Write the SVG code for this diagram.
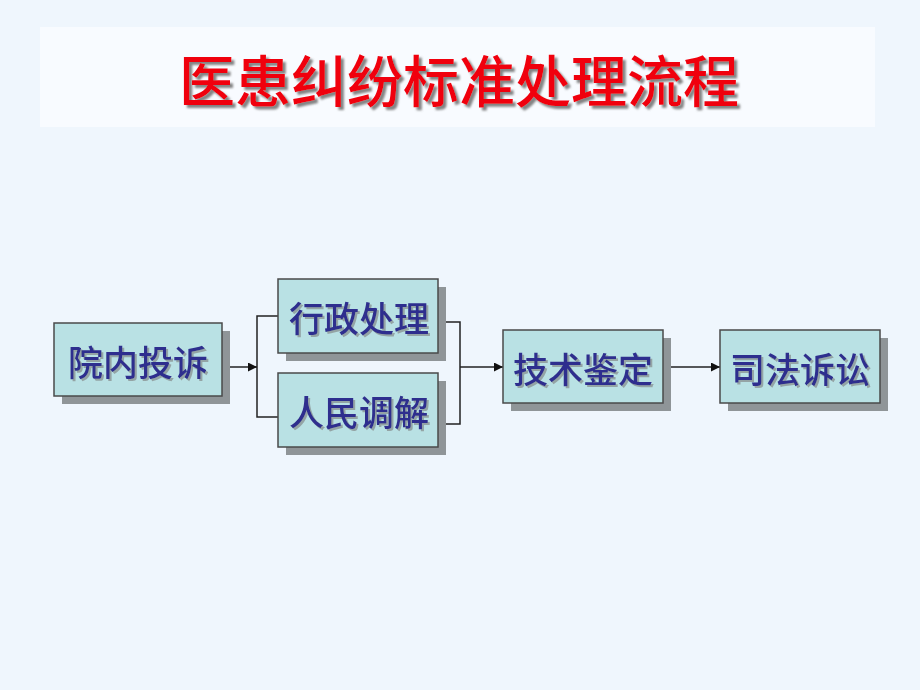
<svg xmlns="http://www.w3.org/2000/svg" width="920" height="690" viewBox="0 0 920 690">
<defs>
<style>
.box{fill:#b9e1e4;stroke:#4a4a4a;stroke-width:1.5}
.sh{fill:#8f9598}
.lbl{font-family:"Noto Sans CJK SC","Noto Sans CJK JP",sans-serif;font-size:35px;font-weight:500;fill:#2e2f8e;text-anchor:middle;dominant-baseline:central;filter:url(#ts)}
.ln{fill:none;stroke:#222;stroke-width:1.5}
</style>
<filter id="ts" x="-10%" y="-20%" width="130%" height="150%">
<feDropShadow dx="2" dy="2" stdDeviation="0.6" flood-color="#8a9496" flood-opacity="0.8"/>
</filter>
<filter id="tts" x="-10%" y="-20%" width="130%" height="150%">
<feDropShadow dx="3" dy="3" stdDeviation="0.8" flood-color="#777" flood-opacity="0.9"/>
</filter>
<marker id="ar" viewBox="0 0 10 10" refX="10" refY="5" markerWidth="9" markerHeight="9" markerUnits="userSpaceOnUse" orient="auto">
<path d="M0,0 L10,5 L0,10 Z" fill="#111"/>
</marker>
</defs>
<rect width="920" height="690" fill="#eff6fd"/>
<g id="title">
<rect x="40" y="27" width="835" height="100" fill="#f8fbff"/>
<text x="459" y="77" font-family="Noto Sans CJK SC,sans-serif" font-size="56" font-weight="500" fill="#f00010" text-anchor="middle" dominant-baseline="central" filter="url(#tts)">医患纠纷标准处理流程</text>
</g>
<g id="connectors">
<line class="ln" x1="222" y1="367" x2="257" y2="367" marker-end="url(#ar)"/>
<polyline class="ln" points="278,316 257,316 257,417 278,417"/>
<polyline class="ln" points="438,322 460,322 460,424 438,424"/>
<line class="ln" x1="460" y1="367" x2="503" y2="367" marker-end="url(#ar)"/>
<line class="ln" x1="663" y1="367" x2="720" y2="367" marker-end="url(#ar)"/>
</g>
<g id="n1">
<rect class="sh" x="62" y="331" width="168" height="73"/>
<rect class="box" x="54" y="323" width="168" height="73"/>
<text class="lbl" x="138" y="360">院内投诉</text>
</g>
<g id="n2">
<rect class="sh" x="286" y="287" width="160" height="74"/>
<rect class="box" x="278" y="279" width="160" height="74"/>
<text class="lbl" x="359" y="316">行政处理</text>
</g>
<g id="n3">
<rect class="sh" x="286" y="381" width="160" height="74"/>
<rect class="box" x="278" y="373" width="160" height="74"/>
<text class="lbl" x="359" y="410">人民调解</text>
</g>
<g id="n4">
<rect class="sh" x="511" y="338" width="160" height="73"/>
<rect class="box" x="503" y="330" width="160" height="73"/>
<text class="lbl" x="583" y="367">技术鉴定</text>
</g>
<g id="n5">
<rect class="sh" x="728" y="338" width="160" height="73"/>
<rect class="box" x="720" y="330" width="160" height="73"/>
<text class="lbl" x="800" y="367">司法诉讼</text>
</g>
</svg>
